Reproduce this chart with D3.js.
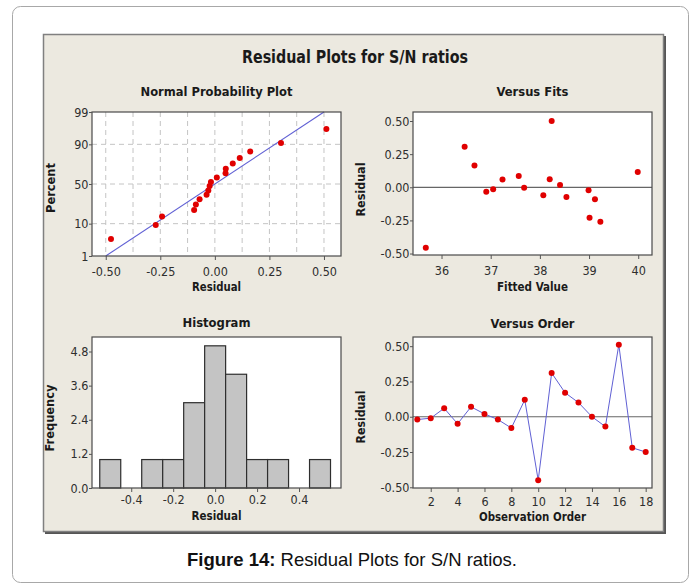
<!DOCTYPE html>
<html>
<head>
<meta charset="utf-8">
<script src="https://cdn.jsdelivr.net/npm/d3@7"></script>
<style>
  body { margin: 0; background: #fff; }
  svg { display: block; }
  .axis .domain { display: none; }
  .axis line { stroke: #555; }
  .axis text {
    font-family: "DejaVu Sans Condensed", "DejaVu Sans", sans-serif;
    font-stretch: condensed;
    font-size: 12.5px;
    fill: #2e2e2e;
  }
</style>
</head>
<body>
<div id="chart"></div>
<script>
// Normal probability plot (sorted residuals and their plotting percents)
const normResid = [-0.476, -0.271, -0.242, -0.095, -0.087, -0.070, -0.038, -0.030, -0.024,
                   -0.018, 0.009, 0.049, 0.050, 0.082, 0.114, 0.162, 0.303, 0.511];
const normPercent = [3.8, 9.2, 14.7, 20.1, 25.5, 31.0, 36.4, 41.8, 47.3,
                     52.7, 58.2, 63.6, 69.0, 74.5, 79.9, 85.3, 90.8, 96.2];
const percentTicks = [1, 10, 50, 90, 99];
const normXTicks = [-0.50, -0.25, 0.00, 0.25, 0.50];
const normGridX = [-0.5, -0.375, -0.25, -0.125, 0, 0.125, 0.25, 0.375, 0.5];
const normGridPct = [10, 50, 90];
const fitLineResid = [-0.50, 0.50];
const fitLinePercent = [1, 99];

// Versus fits
const fittedValues = [35.68, 36.47, 36.67, 36.91, 37.05, 37.24, 37.57, 37.68, 38.07,
                      38.20, 38.24, 38.41, 38.54, 38.99, 39.01, 39.12, 39.23, 39.99];
const fitsResid = [-0.457, 0.305, 0.164, -0.033, -0.015, 0.058, 0.086, -0.003, -0.061,
                   0.061, 0.50, 0.018, -0.073, -0.023, -0.23, -0.09, -0.26, 0.116];
const fitsXTicks = [36, 37, 38, 39, 40];
const residTicks = [-0.50, -0.25, 0.00, 0.25, 0.50];

// Histogram
const histMids = [-0.5, -0.4, -0.3, -0.2, -0.1, 0.0, 0.1, 0.2, 0.3, 0.4, 0.5];
const histCounts = [1, 0, 1, 1, 3, 5, 4, 1, 1, 0, 1];
const histXTicks = [-0.4, -0.2, 0.0, 0.2, 0.4];
const histYTicks = [0.0, 1.2, 2.4, 3.6, 4.8];

// Versus order
const obsOrder = [1, 2, 3, 4, 5, 6, 7, 8, 9, 10, 11, 12, 13, 14, 15, 16, 17, 18];
const orderResid = [-0.02, -0.01, 0.06, -0.05, 0.07, 0.02, -0.02, -0.08, 0.12,
                    -0.45, 0.31, 0.17, 0.10, 0.00, -0.07, 0.51, -0.22, -0.25];
const orderXTicks = [2, 4, 6, 8, 10, 12, 14, 16, 18];

const minitabFont = '"DejaVu Sans Condensed", "DejaVu Sans", sans-serif';
const red = "#e00000";
const blue = "#6060d4";

// inverse normal CDF (Acklam), used for the probability axis
function probit(p) {
  const a = [-3.969683028665376e+01, 2.209460984245205e+02, -2.759285104469687e+02,
             1.383577518672690e+02, -3.066479806614716e+01, 2.506628277459239e+00];
  const b = [-5.447609879822406e+01, 1.615858368580409e+02, -1.556989798598866e+02,
             6.680131188771972e+01, -1.328068155288572e+01];
  const c = [-7.784894002430293e-03, -3.223964580411365e-01, -2.400758277161838e+00,
             -2.549732539343734e+00, 4.374664141464968e+00, 2.938163982698783e+00];
  const d = [7.784695709041462e-03, 3.224671290700398e-01, 2.445134137142996e+00,
             3.754408661907416e+00];
  const pl = 0.02425;
  let q, r;
  if (p < pl) {
    q = Math.sqrt(-2 * Math.log(p));
    return (((((c[0]*q+c[1])*q+c[2])*q+c[3])*q+c[4])*q+c[5]) / ((((d[0]*q+d[1])*q+d[2])*q+d[3])*q+1);
  }
  if (p > 1 - pl) {
    q = Math.sqrt(-2 * Math.log(1 - p));
    return -(((((c[0]*q+c[1])*q+c[2])*q+c[3])*q+c[4])*q+c[5]) / ((((d[0]*q+d[1])*q+d[2])*q+d[3])*q+1);
  }
  q = p - 0.5; r = q * q;
  return (((((a[0]*r+a[1])*r+a[2])*r+a[3])*r+a[4])*r+a[5])*q / (((((b[0]*r+b[1])*r+b[2])*r+b[3])*r+b[4])*r+1);
}

const svg = d3.select("#chart")
  .append("svg")
  .attr("width", 694)
  .attr("height", 584);

// outer rounded frame and the grey Minitab panel
svg.append("rect")
  .attr("x", 12.5).attr("y", 6.5)
  .attr("width", 676).attr("height", 576)
  .attr("rx", 8)
  .attr("fill", "#fff")
  .attr("stroke", "#a8a8a8");

svg.append("rect")
  .attr("x", 45).attr("y", 36)
  .attr("width", 621).attr("height", 498)
  .attr("fill", "#555");
svg.append("rect")
  .attr("x", 43.5).attr("y", 34.5)
  .attr("width", 620).attr("height", 497)
  .attr("fill", "#ece9e0")
  .attr("stroke", "#808080")
  .attr("stroke-width", 1.5);

function addText(x, y, txt, o = {}) {
  const t = svg.append("text")
    .attr("x", x).attr("y", y)
    .attr("text-anchor", "middle")
    .style("font-family", o.family || minitabFont)
    .style("font-stretch", "condensed")
    .style("font-size", (o.size || 13) + "px")
    .style("font-weight", o.weight || "bold")
    .attr("fill", o.fill || "#1a1a1a")
    .text(txt);
  if (o.len) t.attr("textLength", o.len).attr("lengthAdjust", "spacingAndGlyphs");
  if (o.rotate) t.attr("transform", `rotate(-90,${x},${y})`);
  return t;
}

function makePlot(left, top, w, h) {
  const g = svg.append("g").attr("transform", `translate(${left},${top})`);
  g.append("rect").attr("width", w).attr("height", h).attr("fill", "#fff");
  return g;
}

function frame(g, w, h) {
  g.append("rect")
    .attr("width", w).attr("height", h)
    .attr("fill", "none")
    .attr("stroke", "#4a4a4a")
    .attr("stroke-width", 1.2);
}

function drawAxes(g, x, y, h, xTicks, yTicks, xFmt, yFmt, xPad) {
  g.append("g").attr("class", "axis")
    .attr("transform", `translate(0,${h})`)
    .call(d3.axisBottom(x).tickValues(xTicks).tickFormat(xFmt).tickSize(4).tickPadding(xPad));
  g.append("g").attr("class", "axis")
    .call(d3.axisLeft(y).tickValues(yTicks).tickFormat(yFmt).tickSize(3).tickPadding(0.5));
}

const fmt2 = d => d.toFixed(2);
const fmt1 = d => d.toFixed(1);

// main title
addText(355, 63, "Residual Plots for S/N ratios", { size: 17, len: 226 });

// ---------- Normal Probability Plot ----------
{
  const L = 92, T = 112, W = 249, H = 144;
  const g = makePlot(L, T, W, H);
  const x = d3.scaleLinear().domain([-0.563, 0.578]).range([0, W]);
  const z = d3.scaleLinear().domain([probit(0.01), probit(0.99)]).range([H, 0]);
  const yp = p => z(probit(p / 100));

  g.selectAll(".gx").data(normGridX).enter().append("line")
    .attr("x1", d => x(d)).attr("x2", d => x(d))
    .attr("y1", 0).attr("y2", H)
    .attr("stroke", "#c4c4c4").attr("stroke-dasharray", "5,4");
  g.selectAll(".gy").data(normGridPct).enter().append("line")
    .attr("x1", 0).attr("x2", W)
    .attr("y1", d => yp(d)).attr("y2", d => yp(d))
    .attr("stroke", "#c4c4c4").attr("stroke-dasharray", "5,4");

  g.append("path")
    .datum(d3.zip(fitLineResid, fitLinePercent))
    .attr("d", d3.line().x(d => x(d[0])).y(d => yp(d[1])))
    .attr("fill", "none").attr("stroke", blue).attr("stroke-width", 1.1);

  g.selectAll(".pt").data(d3.zip(normResid, normPercent)).enter().append("circle")
    .attr("cx", d => x(d[0])).attr("cy", d => yp(d[1]))
    .attr("r", 3).attr("fill", red);

  frame(g, W, H);
  drawAxes(g, x, z, H, normXTicks, percentTicks.map(p => probit(p / 100)),
    fmt2, (d, i) => percentTicks[i], 7);

  addText(L + W / 2, 95.5, "Normal Probability Plot", { len: 152 });
  addText(L + W / 2, 290.5, "Residual", { size: 12.5, len: 49 });
  addText(54.5, 188, "Percent", { size: 12.5, len: 50, rotate: true });
}

// ---------- Versus Fits ----------
{
  const L = 413, T = 112, W = 239, H = 143;
  const g = makePlot(L, T, W, H);
  const x = d3.scaleLinear().domain([35.42, 40.28]).range([0, W]);
  const y = d3.scaleLinear().domain([-0.511, 0.568]).range([H, 0]);

  g.append("line")
    .attr("x1", 0).attr("x2", W)
    .attr("y1", y(0)).attr("y2", y(0))
    .attr("stroke", "#666").attr("stroke-width", 1.2);

  g.selectAll(".pt").data(d3.zip(fittedValues, fitsResid)).enter().append("circle")
    .attr("cx", d => x(d[0])).attr("cy", d => y(d[1]))
    .attr("r", 3).attr("fill", red);

  frame(g, W, H);
  drawAxes(g, x, y, H, fitsXTicks, residTicks, d => d, fmt2, 7);

  addText(L + W / 2, 95.5, "Versus Fits", { len: 72 });
  addText(L + W / 2, 290.5, "Fitted Value", { size: 12.5, len: 71 });
  addText(365, 189.5, "Residual", { size: 12.5, len: 54, rotate: true });
}

// ---------- Histogram ----------
{
  const L = 92, T = 337, W = 249, H = 151;
  const g = makePlot(L, T, W, H);
  const x = d3.scaleLinear().domain([-0.587, 0.60]).range([0, W]);
  const y = d3.scaleLinear().domain([0, 5.31]).range([H, 0]);

  g.selectAll(".bar").data(d3.zip(histMids, histCounts)).enter().append("rect")
    .attr("x", d => x(d[0] - 0.05))
    .attr("width", d => x(d[0] + 0.05) - x(d[0] - 0.05))
    .attr("y", d => y(d[1]))
    .attr("height", d => H - y(d[1]))
    .attr("fill", "#c4c4c4")
    .attr("stroke", "#2e2e2e")
    .attr("stroke-width", 1.2);

  frame(g, W, H);
  drawAxes(g, x, y, H, histXTicks, histYTicks, fmt1, fmt1, 3);

  addText(L + W / 2, 326.5, "Histogram", { len: 68 });
  addText(L + W / 2, 519.5, "Residual", { size: 12.5, len: 50 });
  addText(53.5, 418, "Frequency", { size: 12.5, len: 67, rotate: true });
}

// ---------- Versus Order ----------
{
  const L = 413, T = 337, W = 239, H = 151;
  const g = makePlot(L, T, W, H);
  const x = d3.scaleLinear().domain([0.68, 18.47]).range([0, W]);
  const y = d3.scaleLinear().domain([-0.505, 0.565]).range([H, 0]);

  g.append("line")
    .attr("x1", 0).attr("x2", W)
    .attr("y1", y(0)).attr("y2", y(0))
    .attr("stroke", "#666").attr("stroke-width", 1.2);

  const pts = d3.zip(obsOrder, orderResid);
  g.append("path")
    .datum(pts)
    .attr("d", d3.line().x(d => x(d[0])).y(d => y(d[1])))
    .attr("fill", "none").attr("stroke", blue).attr("stroke-width", 1);

  g.selectAll(".pt").data(pts).enter().append("circle")
    .attr("cx", d => x(d[0])).attr("cy", d => y(d[1]))
    .attr("r", 3).attr("fill", red);

  frame(g, W, H);
  drawAxes(g, x, y, H, orderXTicks, residTicks, d => d, fmt2, 5);

  addText(L + W / 2, 327.5, "Versus Order", { len: 84 });
  addText(L + W / 2, 521, "Observation Order", { size: 12.5, len: 107 });
  addText(365, 417, "Residual", { size: 12.5, len: 53, rotate: true });
}

// ---------- caption ----------
const cap = svg.append("text")
  .attr("x", 352).attr("y", 566)
  .attr("text-anchor", "middle")
  .style("font-family", '"Liberation Sans", Arial, sans-serif')
  .style("font-size", "18.5px")
  .attr("fill", "#111");
cap.append("tspan").style("font-weight", "bold").text("Figure 14:");
cap.append("tspan").text(" Residual Plots for S/N ratios.");
</script>
</body>
</html>
